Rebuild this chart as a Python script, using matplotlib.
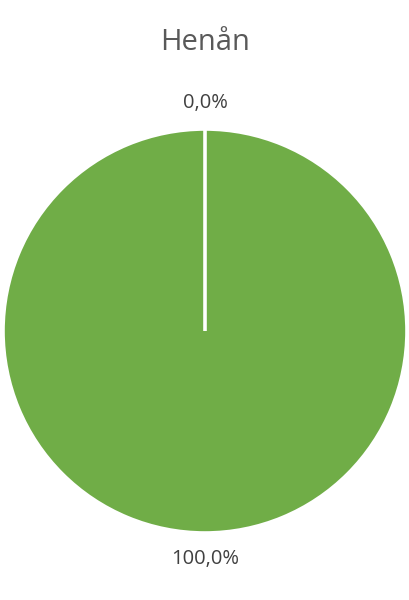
import numpy as np
import matplotlib.pyplot as plt

title = 'Henån'
categories = ['Ja', 'Nej']
values = [0.0, 100.0]
colors = ['#5B9BD5', '#70AD47']

plt.rcParams['font.family'] = ['Open Sans', 'DejaVu Sans']

fig = plt.figure(figsize=(4.1, 6.0), dpi=100)
ax = fig.add_axes([3 / 410, 67 / 600, 404 / 410, 404 / 600])

total = sum(values)
labels = [f'{v / total * 100:.1f}%'.replace('.', ',') for v in values]

wedges, texts = ax.pie(values, colors=colors, labels=labels, startangle=90,
                       counterclock=False, labeldistance=1.13,
                       wedgeprops=dict(edgecolor='white', linewidth=2.6),
                       textprops=dict(fontsize=14.5, color='#404040'))
for t in texts:
    t.set_ha('center')

# a 360 degree wedge has no radial edge, so draw the slice border by hand
ang = np.deg2rad(wedges[0].theta1)
ax.plot([0, np.cos(ang)], [0, np.sin(ang)], color='white', lw=2.6,
        solid_capstyle='butt')

ax.set_xlim(-1.0, 1.0)
ax.set_ylim(-1.0, 1.0)
ax.set_aspect('equal')

fig.text(0.5, 1 - 43 / 600, title, ha='center', va='center',
         fontsize=21, color='#595959')

fig.savefig('out.png', dpi=100)
